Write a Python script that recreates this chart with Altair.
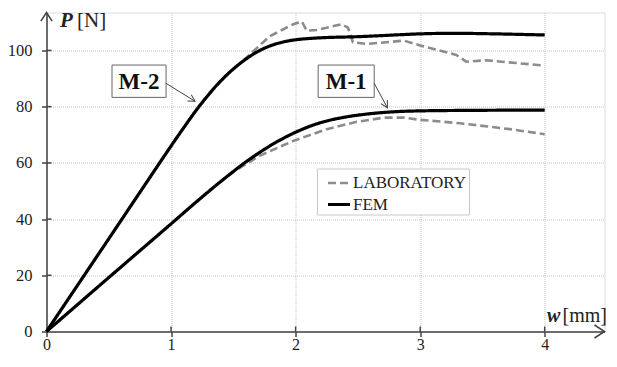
import altair as alt
import pandas as pd

# ---- data ----
m2_fem_w = [0, 0.5, 1.0, 1.1, 1.2, 1.3, 1.4, 1.5, 1.6, 1.7, 1.8, 1.9, 2.0, 2.2, 2.5, 2.7, 3.0, 3.25, 3.6, 4.0]
m2_fem_p = [0, 33.0, 66.0, 72.4, 78.6, 84.2, 89.2, 93.4, 96.9, 99.7, 101.7, 103.0, 103.8, 104.5, 104.9, 105.3, 105.9, 106.1, 105.9, 105.5]

m2_lab_w = [0, 0.5, 1.0, 1.1, 1.2, 1.3, 1.4, 1.5, 1.6, 1.7, 1.79, 1.98, 2.05, 2.09, 2.17, 2.37, 2.42, 2.46, 2.57, 2.87, 3.0, 3.29, 3.37, 3.53, 4.0]
m2_lab_p = [0, 33.0, 66.0, 72.4, 78.6, 84.2, 89.2, 93.4, 97.2, 101.3, 105.0, 109.3, 110.3, 107.0, 107.3, 109.3, 108.1, 102.9, 102.3, 103.5, 101.8, 98.4, 96.0, 96.5, 94.6]

m1_fem_w = [0, 0.5, 1.0, 1.2, 1.4, 1.6, 1.8, 2.0, 2.2, 2.4, 2.6, 2.8, 3.0, 3.5, 4.0]
m1_fem_p = [0, 19.2, 38.3, 46.0, 53.4, 60.3, 66.2, 70.9, 74.3, 76.3, 77.5, 78.2, 78.5, 78.7, 78.8]

m1_lab_w = [0, 0.5, 1.0, 1.2, 1.31, 1.5, 1.71, 1.98, 2.25, 2.49, 2.71, 2.87, 3.0, 3.32, 3.72, 4.0]
m1_lab_p = [0, 19.2, 38.3, 46.0, 50.3, 56.8, 62.5, 67.8, 72.0, 74.6, 76.1, 76.1, 75.3, 74.1, 72.0, 70.2]

x_ticks = [0, 1, 2, 3, 4]
y_ticks = [0, 20, 40, 60, 80, 100]
series_types = ["LABORATORY", "FEM"]

ann_labels = ["M-2", "M-1"]
ann_box_x0 = [0.526, 2.181]
ann_box_x1 = [0.960, 2.631]
ann_box_y0 = [83.3, 83.3]
ann_box_y1 = [94.8, 94.8]
ann_arrow_x0 = [0.960, 2.631]
ann_arrow_y0 = [88.3, 88.3]
ann_arrow_x1 = [1.193, 2.737]
ann_arrow_y1 = [81.9, 79.6]
ann_arrow_angle = [31, 61]

X_MAX = 4.48
Y_MAX = 113.5
W, H = 558, 319

SERIF = "Liberation Serif"
AXIS_C = "#444444"
TEXT_C = "#222222"

rows = []
for spec, typ, ws, ps in [("M-2", "FEM", m2_fem_w, m2_fem_p),
                          ("M-2", "LABORATORY", m2_lab_w, m2_lab_p),
                          ("M-1", "FEM", m1_fem_w, m1_fem_p),
                          ("M-1", "LABORATORY", m1_lab_w, m1_lab_p)]:
    for i, (w, p) in enumerate(zip(ws, ps)):
        rows.append({"spec": spec, "type": typ, "w": w, "P": p, "order": i})
df = pd.DataFrame(rows)

ann = pd.DataFrame({
    "label": ann_labels,
    "x0": ann_box_x0, "x1": ann_box_x1, "y0": ann_box_y0, "y1": ann_box_y1,
    "cx": [(a + b) / 2 for a, b in zip(ann_box_x0, ann_box_x1)],
    "cy": [(a + b) / 2 for a, b in zip(ann_box_y0, ann_box_y1)],
    "ax0": ann_arrow_x0, "ay0": ann_arrow_y0, "ax1": ann_arrow_x1, "ay1": ann_arrow_y1,
    "angle": ann_arrow_angle,
})

xs = alt.Scale(domain=[0, X_MAX], nice=False)
ys = alt.Scale(domain=[0, Y_MAX], nice=False)

x_axis = alt.Axis(values=x_ticks, format="d", title=None, grid=True,
                  ticks=True, tickSize=5, tickWidth=1.5, tickColor=AXIS_C,
                  gridColor="#c4c4c4", gridDash=[1, 1], gridWidth=1,
                  domainColor=AXIS_C, domainWidth=1.5,
                  labelFont=SERIF, labelFontSize=16, labelColor=TEXT_C,
                  labelPadding=0, labelFlush=False)
y_axis = alt.Axis(values=y_ticks, format="d", title=None, grid=True,
                  ticks=True, tickSize=5, tickWidth=1.5, tickColor=AXIS_C,
                  gridColor="#c4c4c4", gridDash=[1, 1], gridWidth=1,
                  domainColor=AXIS_C, domainWidth=1.5,
                  labelFont=SERIF, labelFontSize=16.5, labelColor=TEXT_C,
                  labelPadding=9.5, labelFlush=False)

legend = alt.Legend(title=None, orient="none", legendX=270.5, legendY=156,
                    symbolType="stroke", symbolSize=484, symbolOffset=7,
                    labelFont=SERIF, labelFontSize=17, labelColor=TEXT_C, labelOffset=1,
                    fillColor="white", strokeColor="#c8c8c8", padding=2,
                    rowPadding=0, symbolStrokeColor="black")

enc = dict(
    x=alt.X("w:Q", scale=xs, axis=x_axis),
    y=alt.Y("P:Q", scale=ys, axis=y_axis),
    color=alt.Color("type:N", scale=alt.Scale(domain=series_types, range=["#8c8c8c", "#000000"]), legend=legend),
    strokeDash=alt.StrokeDash("type:N", scale=alt.Scale(domain=series_types, range=[[8, 4], [1, 0]]), legend=legend),
    strokeWidth=alt.StrokeWidth("type:N", scale=alt.Scale(domain=series_types, range=[2.6, 3.2]), legend=legend),
    detail="spec:N",
    order="order:Q",
)

base = alt.Chart(df)
lab = base.transform_filter(alt.datum.type == "LABORATORY").mark_line(interpolate="linear").encode(**enc)
fem = base.transform_filter(alt.datum.type == "FEM").mark_line(interpolate="catmull-rom").encode(**enc)

# inner half of the crossing axis ticks
xt = alt.Chart(pd.DataFrame({"w": x_ticks[1:]})).mark_rule(color=AXIS_C, strokeWidth=1.5).encode(
    x=alt.X("w:Q", scale=xs), y=alt.value(H - 5), y2=alt.value(H))
yt = alt.Chart(pd.DataFrame({"P": y_ticks[1:]})).mark_rule(color=AXIS_C, strokeWidth=1.5).encode(
    y=alt.Y("P:Q", scale=ys), x=alt.value(0), x2=alt.value(5))

arrow_path = "M-1,-0.65 L0,0 L-1,0.65"
x_arrow = alt.Chart(pd.DataFrame({"a": [0]})).mark_point(
    shape=arrow_path, size=400, filled=False, color=AXIS_C, strokeWidth=1.5, opacity=1, angle=0).encode(
    x=alt.datum(X_MAX), y=alt.datum(0))
y_arrow = alt.Chart(pd.DataFrame({"a": [0]})).mark_point(
    shape=arrow_path, size=300, filled=False, color=AXIS_C, strokeWidth=1.5, opacity=1, angle=270).encode(
    x=alt.datum(0), y=alt.datum(Y_MAX))

ann_base = alt.Chart(ann)
boxes = ann_base.mark_rect(fill="white", stroke="#666666", strokeWidth=1).encode(
    x=alt.X("x0:Q", scale=xs), x2="x1:Q", y=alt.Y("y0:Q", scale=ys), y2="y1:Q")
box_text = ann_base.mark_text(font=SERIF, fontSize=23, fontWeight="bold", color="#111111",
                              baseline="middle", dy=1).encode(
    x=alt.X("cx:Q", scale=xs), y=alt.Y("cy:Q", scale=ys), text="label:N")
arrows = ann_base.mark_rule(color="#444444", strokeWidth=1).encode(
    x=alt.X("ax0:Q", scale=xs), y=alt.Y("ay0:Q", scale=ys), x2="ax1:Q", y2="ay1:Q")
heads = ann_base.mark_point(shape="M-1,-0.55 L0,0 L-1,0.55", size=180, filled=False,
                            color="#444444", strokeWidth=1, opacity=1).encode(
    x=alt.X("ax1:Q", scale=xs), y=alt.Y("ay1:Q", scale=ys), angle=alt.Angle("angle:Q", scale=None))

title_df = pd.DataFrame({"a": [0]})
def ttext(txt, px, py, bold_italic, size=21):
    kw = dict(font=SERIF, fontSize=size, color=TEXT_C, align="left", baseline="alphabetic")
    if bold_italic:
        kw.update(fontWeight="bold", fontStyle="italic")
    return alt.Chart(title_df).mark_text(text=txt, **kw).encode(x=alt.value(px), y=alt.value(py))

titles = [ttext("P", 13.5, 14.5, True), ttext("[N]", 30.5, 14.5, False),
          ttext("w", 500.5, 309, True, 20), ttext("[mm]", 516, 309, False, 20)]

chart = alt.layer(xt, yt, lab, fem, boxes, box_text, arrows, heads, x_arrow, y_arrow, *titles).properties(
    width=W, height=H, autosize="none",
    padding={"left": 38.5, "top": 4.5, "right": 3.5, "bottom": 23.5},
).configure_view(stroke=None).configure(background="white")

chart.save("out.html", embed_options={"renderer": "svg", "actions": False})
